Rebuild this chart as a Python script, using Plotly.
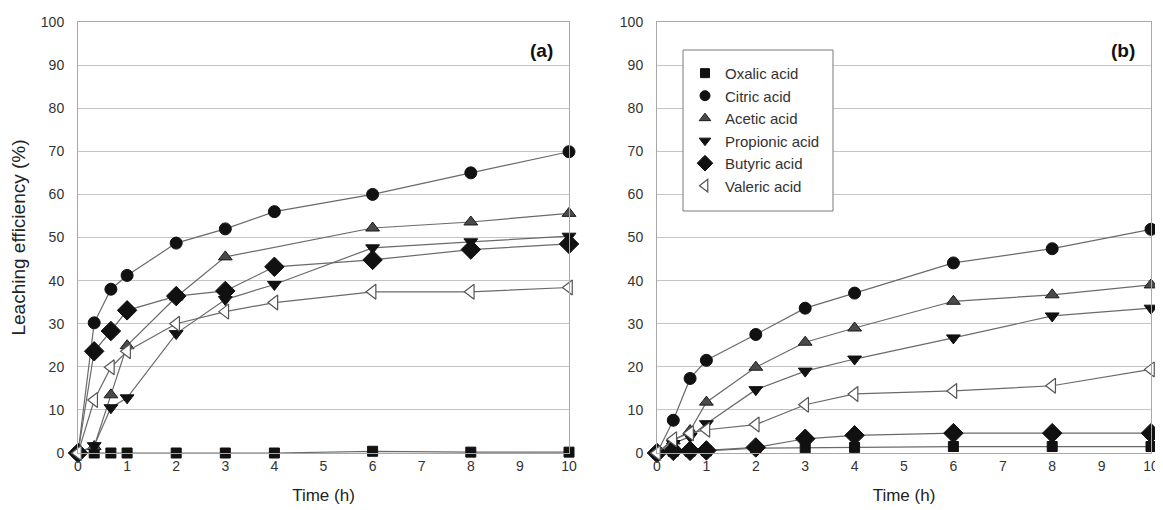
import plotly.graph_objects as go

time_h = [0, 0.33, 0.67, 1, 2, 3, 4, 6, 8, 10]
series_names = ["Oxalic acid", "Citric acid", "Acetic acid", "Propionic acid", "Butyric acid", "Valeric acid"]

# Panel (a)
a_oxalic = [0, 0, 0, 0, 0, 0, 0, 0.4, 0.2, 0.2]
a_citric = [0, 30.2, 38, 41.2, 48.7, 52, 56, 60, 65, 69.9]
a_acetic = [0, 1.5, 13.5, 24.9, 36.2, 45.5, None, 52.2, 53.6, 55.6]
a_propionic = [0, 1.7, 10.5, 12.8, 27.7, 35.6, 39.1, 47.6, 49, 50.3]
a_butyric = [0, 23.6, 28.3, 33.1, 36.4, 37.6, 43.2, 44.8, 47.2, 48.5]
a_valeric = [0, 12.3, 19.9, 23.6, 30, 32.8, 34.9, 37.4, 37.4, 38.4]

# Panel (b)
b_oxalic = [0, 0.4, 0.4, 0.5, 1.1, 1.2, 1.3, 1.5, 1.5, 1.5]
b_citric = [0, 7.6, 17.3, 21.5, 27.5, 33.6, 37.1, 44.1, 47.4, 51.9]
b_acetic = [0, 2.8, 5.2, 11.8, 19.9, 25.7, 29, 35.2, 36.7, 39]
b_propionic = [0, 2.2, 3.8, 6.8, 14.7, 19, 21.8, 26.7, 31.8, 33.6]
b_butyric = [0, 0.5, 0.5, 0.6, 1.3, 3.3, 4.1, 4.6, 4.6, 4.6]
b_valeric = [0, 3.2, 4.6, 5.4, 6.6, 11.2, 13.7, 14.4, 15.6, 19.4]

y_ticks = list(range(0, 101, 10))
x_ticks = list(range(0, 11))

line_col = "#6a6a6a"
styles = [
    dict(symbol="square", size=10, color="#111111", line=dict(color="#111111", width=1)),
    dict(symbol="circle", size=12, color="#111111", line=dict(color="#111111", width=1)),
    dict(symbol="triangle-up", size=12, color="#4a4a4a", line=dict(color="#1a1a1a", width=1)),
    dict(symbol="triangle-down", size=12, color="#111111", line=dict(color="#111111", width=1)),
    dict(symbol="diamond", size=15, color="#111111", line=dict(color="#111111", width=1)),
    dict(symbol="triangle-left", size=13, color="#ffffff", line=dict(color="#555555", width=1.2)),
]
legend_sizes = [9, 10, 10, 10, 12, 11]

fig = go.Figure()
panels = [
    ("x", "y", [a_oxalic, a_citric, a_acetic, a_propionic, a_butyric, a_valeric]),
    ("x2", "y2", [b_oxalic, b_citric, b_acetic, b_propionic, b_butyric, b_valeric]),
]
for xa, ya, data in panels:
    for name, vals, st in zip(series_names, data, styles):
        fig.add_trace(go.Scatter(
            x=time_h, y=vals, name=name, mode="lines+markers",
            line=dict(color=line_col, width=1.2),
            marker=st, xaxis=xa, yaxis=ya, cliponaxis=False,
            connectgaps=True, showlegend=False,
        ))

# legend entries (markers only)
for name, st, ls in zip(series_names, styles, legend_sizes):
    m = dict(st)
    m["size"] = ls
    fig.add_trace(go.Scatter(
        x=[None], y=[None], name=name, mode="markers", marker=m,
        xaxis="x2", yaxis="y2", showlegend=True,
    ))

font_family = "Liberation Sans, Arial, sans-serif"
axis_common = dict(
    gridcolor="#c4c4c4", gridwidth=1, automargin=False,
    showline=True, linecolor="#a8a8a8", linewidth=1, mirror=True,
    zeroline=False, ticks="", tickfont=dict(size=14, color="#333333"),
)
x_title = dict(text="Time (h)", font=dict(size=17, color="#222222"), standoff=16)

# plot area in page pixels: left 78, top 22, width 1073, height 431 (page has 8px body offset)
fig.update_layout(
    width=1163, height=510,
    margin=dict(l=70, r=20, t=14, b=65, autoexpand=False),
    plot_bgcolor="white", paper_bgcolor="white",
    font=dict(family=font_family, color="#333333"),
    xaxis=dict(domain=[0, 0.4576], range=[0, 10], tickvals=x_ticks, showgrid=False,
               title=x_title, **axis_common),
    yaxis=dict(domain=[0, 1], range=[0, 100], tickvals=y_ticks, showgrid=True,
               ticklabelstandoff=10,
               title=dict(text="Leaching efficiency (%)", font=dict(size=19, color="#222222"), standoff=12),
               **axis_common),
    xaxis2=dict(domain=[0.5396, 1], range=[0, 10], tickvals=x_ticks, anchor="y2", showgrid=False,
                title=x_title, **axis_common),
    yaxis2=dict(domain=[0, 1], range=[0, 100], tickvals=y_ticks, anchor="x2", showgrid=True,
                ticklabelstandoff=10, **axis_common),
    legend=dict(x=0.5657, y=0.919, xanchor="left", yanchor="top",
                bgcolor="rgba(0,0,0,0)", borderwidth=0,
                font=dict(size=15, color="#333333"), itemsizing="trace",
                tracegroupgap=0),
    shapes=[
        dict(type="rect", xref="paper", yref="paper",
             x0=(683 - 78) / 1073, x1=(833 - 78) / 1073,
             y0=(453 - 211) / 431, y1=(453 - 50) / 431,
             fillcolor="white", line=dict(color="#7a7a7a", width=1), layer="above"),
    ],
    annotations=[
        dict(text="<b>(a)</b>", x=9.72, y=93.5, xref="x", yref="y", xanchor="right",
             yanchor="middle", showarrow=False, font=dict(size=19, color="#111111")),
        dict(text="<b>(b)</b>", x=9.72, y=93.5, xref="x2", yref="y2", xanchor="right",
             yanchor="middle", showarrow=False, font=dict(size=19, color="#111111")),
    ],
)
fig.write_html("out.html")
